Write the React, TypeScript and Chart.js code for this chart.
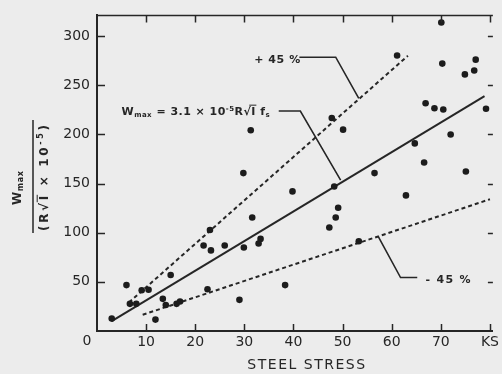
import { useEffect, useRef } from "react";
import { Chart, registerables } from "chart.js";

Chart.register(...registerables);

// ---- data ----
const stressKsi = [
  3.0, 6.0, 6.7, 8.0, 9.1, 10.5, 11.9, 13.4, 14.0, 15.0, 16.2, 16.9, 21.7, 23.2, 23.0, 22.5, 26.0,
  29.0, 29.9, 29.8, 31.3, 31.6, 32.9, 33.3, 38.3, 39.8, 47.3, 48.6, 49.1, 48.3, 47.8, 50.1, 53.3,
  56.5, 61.1, 62.9, 64.7, 66.6, 66.9, 68.7, 70.5, 70.1, 70.3, 72.0, 74.9, 76.8, 77.1, 75.1, 79.2,
];
const crackIndex = [
  12.6, 46.7, 27.6, 27.6, 41.4, 42, 11.6, 32.7, 26.5, 57, 27.6, 30, 87, 82, 102.7, 42.4, 87,
  31.7, 85, 160.6, 204.2, 115.4, 89, 93.7, 46.7, 142, 105.3, 115.4, 125.4, 147, 216.6, 204.8, 91.3,
  160.6, 280.2, 137.9, 190.8, 171.4, 231.7, 226.6, 225.3, 313.8, 272, 199.8, 261, 265, 276, 162.3, 226,
];
const meanLineStress = [3, 78.9];
const meanLineIndex = [10, 239];
const upperLineStress = [6.5, 63.3];
const upperLineIndex = [29, 280];
const lowerLineStress = [9.3, 80];
const lowerLineIndex = [16.5, 134];

const upperLeaderStress = [41.2, 48.6, 53.3];
const upperLeaderIndex = [278.5, 278.5, 236.7];
const meanLeaderStress = [37, 41.4, 49.6];
const meanLeaderIndex = [223.7, 223.7, 153.5];
const lowerLeaderStress = [57.3, 61.8, 65.2];
const lowerLeaderIndex = [95.8, 54.4, 54.4];

const xTickValues = [10, 20, 30, 40, 50, 60, 70, 80];
const xTickLabels = ["10", "20", "30", "40", "50", "60", "70", "KS"];
const yTickValues = [50, 100, 150, 200, 250, 300];
const xMax = 80.6;
const yMax = 321;

const INK = "#262626";
const BG = "#ececec";
const FONT = '"DejaVu Sans"';

type Piece = { t: string; size: number; dy?: number; bar?: boolean };

// Draws rich text with fixed font sizes, spreading extra letter spacing to reach the target width.
function drawRich(
  ctx: CanvasRenderingContext2D,
  pieces: Piece[],
  x: number,
  y: number,
  target: number,
  align: "left" | "center"
) {
  let natural = 0;
  let nChars = 0;
  for (const p of pieces) {
    ctx.font = `bold ${p.size}px ${FONT}`;
    natural += ctx.measureText(p.t).width;
    nChars += p.t.length;
  }
  const extra = Math.max(0, (target - natural) / Math.max(1, nChars - 1));
  const total = natural + extra * (nChars - 1);
  let cx = align === "center" ? x - total / 2 : x;
  ctx.textBaseline = "alphabetic";
  ctx.textAlign = "left";
  for (const p of pieces) {
    ctx.font = `bold ${p.size}px ${FONT}`;
    const start = cx;
    let end = cx;
    for (const ch of p.t) {
      const w = ctx.measureText(ch).width;
      ctx.fillText(ch, cx, y + (p.dy || 0));
      end = cx + w;
      cx += w + extra;
    }
    if (p.bar) {
      ctx.beginPath();
      ctx.lineWidth = 1;
      ctx.moveTo(start - 2, y - p.size * 0.9);
      ctx.lineTo(end + 1, y - p.size * 0.9);
      ctx.stroke();
    }
  }
}

const decorPlugin = {
  id: "decor",
  beforeDraw(chart: any) {
    const { ctx, width, height } = chart;
    ctx.save();
    ctx.fillStyle = BG;
    ctx.fillRect(0, 0, width, height);
    ctx.restore();
  },
  afterDraw(chart: any) {
    const { ctx, chartArea } = chart;
    const xs = chart.scales.x;
    const ys = chart.scales.y;
    const { left, right, top, bottom } = chartArea;
    ctx.save();
    ctx.strokeStyle = INK;
    ctx.fillStyle = INK;
    // top frame
    ctx.lineWidth = 1.5;
    ctx.beginPath();
    ctx.moveTo(left, top);
    ctx.lineTo(right, top);
    ctx.stroke();
    // inward ticks
    ctx.lineWidth = 1.5;
    ctx.beginPath();
    for (const v of xTickValues) {
      const px = Math.round(xs.getPixelForValue(v)) + 0.5;
      ctx.moveTo(px, bottom);
      ctx.lineTo(px, bottom - 7);
      ctx.moveTo(px, top);
      ctx.lineTo(px, top + 7);
    }
    for (const v of yTickValues) {
      const py = Math.round(ys.getPixelForValue(v)) + 0.5;
      ctx.moveTo(left, py);
      ctx.lineTo(left + 8, py);
      ctx.moveTo(right, py);
      ctx.lineTo(right - 5, py);
    }
    ctx.stroke();

    // corner zero
    ctx.font = `14px ${FONT}`;
    ctx.textAlign = "center";
    ctx.textBaseline = "middle";
    ctx.fillText("0", xs.getPixelForValue(0) - 10, ys.getPixelForValue(0) + 10);

    // x title
    ctx.font = `14px ${FONT}`;
    (ctx as any).letterSpacing = "1.5px";
    ctx.textAlign = "center";
    ctx.textBaseline = "middle";
    ctx.fillText("STEEL STRESS", (left + right) / 2 + 12, 365);
    (ctx as any).letterSpacing = "0px";

    // annotations
    const px = (v: number) => xs.getPixelForValue(v);
    const py = (v: number) => ys.getPixelForValue(v);
    drawRich(ctx, [{ t: "+ 45 %", size: 11 }], px(32), py(276.8) + 4, 46, "left");
    drawRich(ctx, [{ t: "- 45 %", size: 11 }], px(66.9), py(53) + 4, 45, "left");
    drawRich(
      ctx,
      [
        { t: "W", size: 11 },
        { t: "max", size: 7, dy: 2 },
        { t: " = 3.1 × 10", size: 11 },
        { t: "-5", size: 7, dy: -4 },
        { t: "R", size: 11 },
        { t: "√", size: 11 },
        { t: "I", size: 11, bar: true },
        { t: " f", size: 11 },
        { t: "s", size: 7, dy: 2 },
      ],
      px(5),
      py(223.7) + 4,
      148,
      "left"
    );

    // y title (rotated fraction)
    ctx.save();
    ctx.translate(33, 178);
    ctx.rotate(-Math.PI / 2);
    ctx.lineWidth = 1.5;
    ctx.beginPath();
    ctx.moveTo(-55, 0);
    ctx.lineTo(58, 0);
    ctx.stroke();
    drawRich(
      ctx,
      [
        { t: "W", size: 12 },
        { t: "max", size: 8, dy: 2 },
      ],
      -10,
      -12,
      34,
      "center"
    );
    drawRich(
      ctx,
      [
        { t: "(R", size: 12 },
        { t: "√", size: 12 },
        { t: "I", size: 12, bar: true },
        { t: " × 10", size: 12 },
        { t: "-5", size: 8, dy: -5 },
        { t: ")", size: 12 },
      ],
      0,
      15,
      106,
      "center"
    );
    ctx.restore();
    ctx.restore();
  },
};

function pts(xs: number[], ys: number[]) {
  return xs.map((x, i) => ({ x, y: ys[i] }));
}

export default function App() {
  const ref = useRef<HTMLCanvasElement | null>(null);
  useEffect(() => {
    document.body.style.margin = "0";
    document.body.style.background = BG;
    const canvas = ref.current!;
    const lineDs = (xs: number[], ys: number[], dash: number[], w: number) => ({
      data: pts(xs, ys),
      showLine: true,
      borderColor: INK,
      borderWidth: w,
      borderDash: dash,
      pointRadius: 0,
      fill: false,
    });
    const chart = new Chart(canvas, {
      type: "scatter",
      data: {
        datasets: [
          {
            data: pts(stressKsi, crackIndex),
            backgroundColor: "#1c1c1c",
            borderWidth: 0,
            pointRadius: 3.3,
          } as any,
          lineDs(meanLineStress, meanLineIndex, [], 2),
          lineDs(upperLineStress, upperLineIndex, [4, 3], 2),
          lineDs(lowerLineStress, lowerLineIndex, [4, 3], 2),
          lineDs(upperLeaderStress, upperLeaderIndex, [], 1.6),
          lineDs(meanLeaderStress, meanLeaderIndex, [], 1.6),
          lineDs(lowerLeaderStress, lowerLeaderIndex, [], 1.6),
        ],
      },
      options: {
        animation: false,
        responsive: false,
        maintainAspectRatio: false,
        layout: { padding: { top: 11, right: 2, left: 0, bottom: 0 } },
        plugins: { legend: { display: false }, tooltip: { enabled: false } },
        scales: {
          x: {
            type: "linear",
            min: 0,
            max: xMax,
            afterBuildTicks: (s: any) => {
              s.ticks = xTickValues.map((v) => ({ value: v }));
            },
            afterFit: (s: any) => {
              s.height = 43;
            },
            ticks: {
              autoSkip: false,
              maxRotation: 0,
              padding: 3,
              color: INK,
              font: { family: "DejaVu Sans", size: 14 },
              callback: (v: any) => {
                const i = xTickValues.indexOf(Number(v));
                return i >= 0 ? xTickLabels[i] : "";
              },
            },
            grid: { display: false, drawTicks: false },
            border: { display: true, color: INK, width: 2 },
          },
          y: {
            type: "linear",
            min: 0,
            max: yMax,
            afterBuildTicks: (s: any) => {
              s.ticks = yTickValues.map((v) => ({ value: v }));
            },
            afterFit: (s: any) => {
              s.width = 97;
            },
            ticks: {
              autoSkip: false,
              padding: 7,
              color: INK,
              font: { family: "DejaVu Sans", size: 14 },
            },
            grid: { display: false, drawTicks: false },
            border: { display: true, color: INK, width: 2 },
          },
        },
      } as any,
      plugins: [decorPlugin as any],
    });
    return () => chart.destroy();
  }, []);
  return (
    <div style={{ position: "absolute", left: 0, top: 0, width: 502, height: 374, background: BG }}>
      <canvas ref={ref} width={502} height={374} style={{ display: "block", width: 502, height: 374 }} />
    </div>
  );
}
